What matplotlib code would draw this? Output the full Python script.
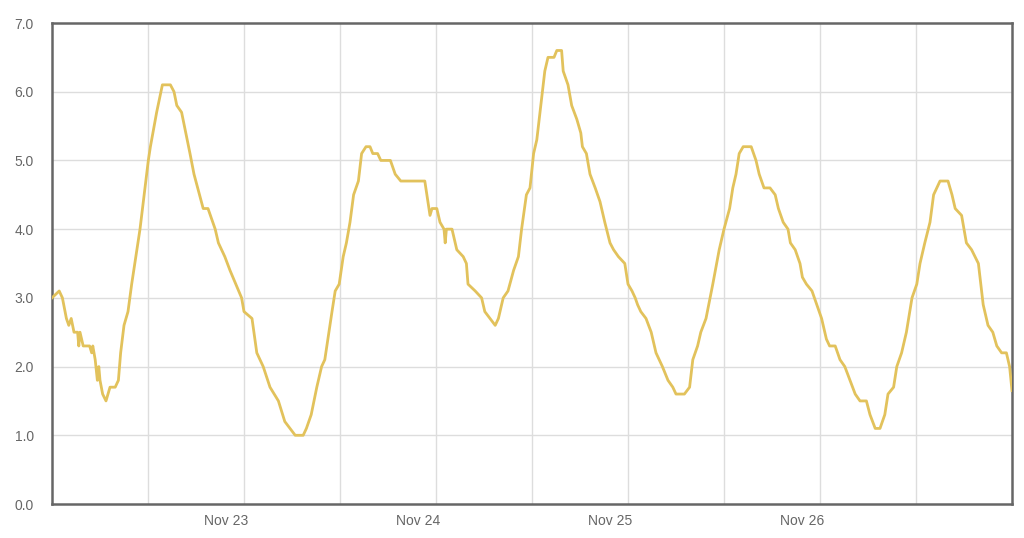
import matplotlib
matplotlib.use("Agg")
import matplotlib.pyplot as plt

# hours since start of window, reading
hours = [0, 0.9, 1.3, 1.8, 2.1, 2.4, 2.75, 3.2, 3.35, 3.5, 3.9, 4.7, 4.96, 5.1, 5.4,
         5.67, 5.85, 6.0, 6.33, 6.75, 7.25, 7.9, 8.3, 8.58, 9.0, 9.5, 9.96, 11.0,
         12.04, 12.3, 13.08, 13.8, 14.8, 15.25, 15.6, 16.2, 17.25, 17.75, 18.9,
         19.5, 20.4, 20.8, 21.6, 22.25, 23.7, 24.0, 25.0, 25.6, 26.4, 27.25, 28.3,
         29.1, 29.75, 30.4, 31.4, 31.8, 32.4, 33.1, 33.7, 34.1, 35.0, 35.4, 35.9,
         36.4, 36.8, 37.25, 37.7, 38.3, 38.7, 39.25, 39.75, 40.1, 40.7, 41.1, 42.3,
         42.9, 43.6, 46.6, 47.25, 47.5, 48.1, 48.5, 49.0, 49.15, 49.3, 50.0, 50.6,
         51.4, 51.8, 52.0, 52.9, 53.7, 54.1, 54.75, 55.4, 55.8, 56.4, 57.0, 57.7,
         58.3, 58.7, 59.3, 59.75, 60.2, 60.6, 61.2, 61.6, 62.0, 62.75, 63.1, 63.7,
         63.9, 64.5, 64.96, 65.6, 66.1, 66.3, 66.8, 67.25, 67.9, 68.5, 68.7, 69.1,
         69.75, 70.2, 70.8, 71.6, 72.0, 72.5, 72.9, 73.2, 73.6, 74.25, 74.9, 75.5,
         76.3, 77.0, 77.6, 78.0, 79.05, 79.7, 80.1, 80.7, 81.1, 81.75, 82.6, 83.4,
         84.0, 84.7, 85.1, 85.5, 85.9, 86.4, 87.4, 88.0, 88.4, 89.0, 89.75, 90.4,
         90.8, 91.4, 92.0, 92.3, 92.9, 93.5, 93.8, 94.3, 95.0, 95.6, 96.2, 96.8,
         97.2, 97.9, 98.5, 99.1, 99.75, 100.4, 101.0, 101.8, 102.25, 102.9, 103.5,
         104.1, 104.5, 105.2, 105.6, 106.2, 106.8, 107.5, 108.1, 108.5, 109.1,
         109.75, 110.2, 110.6, 111.0, 112.0, 112.5, 112.9, 113.7, 114.3, 114.95,
         115.8, 116.4, 117.0, 117.6, 118.1, 118.7, 119.3, 119.7, 120.0]
values = [3.0, 3.1, 3.0, 2.7, 2.6, 2.7, 2.5, 2.5, 2.3, 2.5, 2.3, 2.3, 2.2, 2.3, 2.1,
          1.8, 2.0, 1.8, 1.6, 1.5, 1.7, 1.7, 1.8, 2.2, 2.6, 2.8, 3.2, 4.0,
          5.0, 5.2, 5.7, 6.1, 6.1, 6.0, 5.8, 5.7, 5.1, 4.8, 4.3,
          4.3, 4.0, 3.8, 3.6, 3.4, 3.0, 2.8, 2.7, 2.2, 2.0, 1.7, 1.5,
          1.2, 1.1, 1.0, 1.0, 1.1, 1.3, 1.7, 2.0, 2.1, 2.8, 3.1, 3.2,
          3.6, 3.8, 4.1, 4.5, 4.7, 5.1, 5.2, 5.2, 5.1, 5.1, 5.0, 5.0,
          4.8, 4.7, 4.7, 4.2, 4.3, 4.3, 4.1, 4.0, 3.8, 4.0, 4.0, 3.7,
          3.6, 3.5, 3.2, 3.1, 3.0, 2.8, 2.7, 2.6, 2.7, 3.0, 3.1, 3.4,
          3.6, 4.0, 4.5, 4.6, 5.1, 5.3, 5.9, 6.3, 6.5, 6.5, 6.6, 6.6,
          6.3, 6.1, 5.8, 5.6, 5.4, 5.2, 5.1, 4.8, 4.6, 4.4, 4.3, 4.1,
          3.8, 3.7, 3.6, 3.5, 3.2, 3.1, 3.0, 2.9, 2.8, 2.7, 2.5, 2.2,
          2.0, 1.8, 1.7, 1.6, 1.6, 1.7, 2.1, 2.3, 2.5, 2.7, 3.2, 3.7,
          4.0, 4.3, 4.6, 4.8, 5.1, 5.2, 5.2, 5.0, 4.8, 4.6, 4.6, 4.5,
          4.3, 4.1, 4.0, 3.8, 3.7, 3.5, 3.3, 3.2, 3.1, 2.9, 2.7, 2.4,
          2.3, 2.3, 2.1, 2.0, 1.8, 1.6, 1.5, 1.5, 1.3, 1.1, 1.1,
          1.3, 1.6, 1.7, 2.0, 2.2, 2.5, 3.0, 3.2, 3.5, 3.8,
          4.1, 4.5, 4.6, 4.7, 4.7, 4.5, 4.3, 4.2, 3.8, 3.7,
          3.5, 2.9, 2.6, 2.5, 2.3, 2.2, 2.2, 2.0, 1.65]

day_labels = ["Nov 23", "Nov 24", "Nov 25", "Nov 26"]
day_pos = [21.75, 45.75, 69.75, 93.75]
grid_x = [12, 24, 36, 48, 60, 72, 84, 96, 108]
y_ticks = [0, 1, 2, 3, 4, 5, 6, 7]

plt.rcParams['font.family'] = ['Liberation Sans', 'DejaVu Sans']

fig = plt.figure(figsize=(10.24, 5.38), dpi=100)
ax = fig.add_axes([52 / 1024, 1 - 504 / 538, 960 / 1024, 481 / 538])

for gx in grid_x:
    ax.axvline(gx, color="#dddddd", lw=1, zorder=0)
for gy in y_ticks[1:-1]:
    ax.axhline(gy, color="#dddddd", lw=1, zorder=0)

ax.plot(hours, values, color="#e2c25c", lw=2.0, solid_joinstyle="round", zorder=3)

ax.set_xlim(0, 120)
ax.set_ylim(0, 7)
ax.set_yticks(y_ticks)
ax.set_yticklabels(["%.1f" % v for v in y_ticks])
ax.set_xticks(day_pos)
ax.set_xticklabels(day_labels)
ax.tick_params(axis="both", length=0, labelsize=10, colors="#666666")
ax.tick_params(axis="y", pad=13)
ax.tick_params(axis="x", pad=7)

for s in ax.spines.values():
    s.set_color("#666666")
    s.set_linewidth(1.8)

fig.savefig("out.png", dpi=100)
